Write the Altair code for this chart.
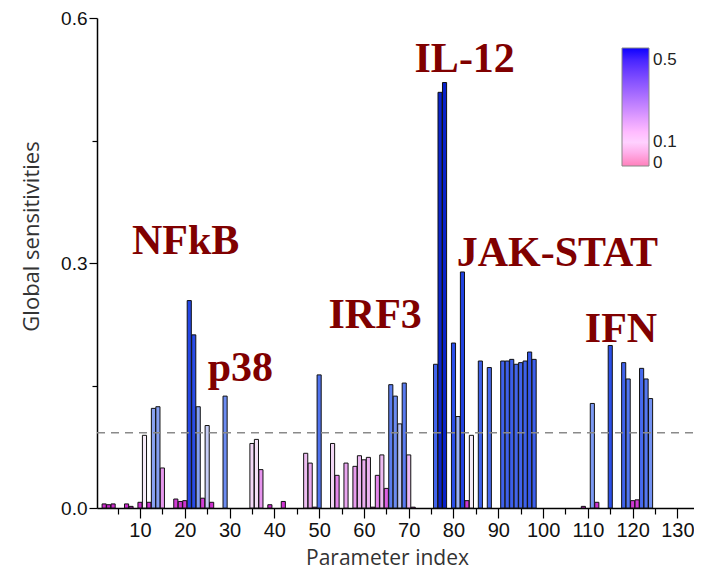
import altair as alt
import pandas as pd

# ---- data ----
param_index = [2, 3, 4, 7, 8, 10, 11, 12, 13, 14, 15, 18, 19, 20, 21, 22, 23, 24, 25, 26, 29,
               35, 36, 37, 39, 42, 47, 48, 49, 50, 53, 54, 56, 58, 59, 60, 61, 62, 63, 64, 65,
               66, 67, 68, 69, 70, 71, 76, 77, 78, 80, 81, 82, 83, 84, 86, 88, 91, 92, 93, 94,
               95, 96, 97, 98, 109, 111, 112, 115, 118, 119, 120, 121, 122, 123, 124]
sensitivity = [0.005, 0.004, 0.005, 0.005, 0.002, 0.007, 0.089, 0.007, 0.122, 0.124, 0.049,
               0.011, 0.008, 0.009, 0.254, 0.212, 0.124, 0.012, 0.101, 0.007, 0.137,
               0.079, 0.084, 0.047, 0.004, 0.008, 0.067, 0.055, 0.001, 0.163, 0.079, 0.040,
               0.055, 0.051, 0.064, 0.059, 0.062, 0.001, 0.040, 0.065, 0.024,
               0.151, 0.137, 0.103, 0.153, 0.065, 0.001, 0.176, 0.509, 0.521, 0.202, 0.112,
               0.289, 0.009, 0.089, 0.180, 0.172, 0.180, 0.180, 0.182, 0.176,
               0.178, 0.180, 0.191, 0.182, 0.002, 0.128, 0.007, 0.199, 0.178, 0.158, 0.009,
               0.010, 0.171, 0.158, 0.134]

group_labels = ["NFkB", "p38", "IRF3", "IL-12", "JAK-STAT", "IFN"]
group_x = [20.2, 32.4, 62.5, 82.5, 103.2, 117.4]
group_y = [0.311, 0.156, 0.221, 0.534, 0.296, 0.203]

threshold = [0.092]
legend_values = [0, 0.1, 0.5]

x_major = [10, 20, 30, 40, 50, 60, 70, 80, 90, 100, 110, 120, 130]
x_minor = [5, 15, 25, 35, 45, 55, 65, 75, 85, 95, 105, 115, 125]
y_major = [0.0, 0.3, 0.6]
y_minor = [0.15, 0.45]

bars_df = pd.DataFrame({"idx": param_index, "value": sensitivity})
ann_df = pd.DataFrame({"label": group_labels, "x": group_x, "y": group_y})
thr_df = pd.DataFrame({"t": threshold})
leg_df = pd.DataFrame({"v": legend_values})

W, H = 597, 490
x_scale = alt.Scale(domain=[0.4, 133.7], nice=False, zero=False)
y_scale = alt.Scale(domain=[0, 0.6], nice=False)

bar_color = alt.Scale(
    domain=[0, 0.03, 0.09, 0.11, 0.14, 0.2, 0.5],
    range=["#c81ec8", "#e070e8", "#f6eef8", "#a0b4f4", "#6688f2", "#2a4ee8", "#0a24cc"],
    interpolate="rgb",
)

label_font = "Liberation Sans"
title_font = "Open Sans"

bars = alt.Chart(bars_df).transform_calculate(
    x0="datum.idx - 0.46", x1="datum.idx + 0.46"
).mark_bar(stroke="#111111", strokeWidth=1).encode(
    x=alt.X("x0:Q", scale=x_scale,
            axis=alt.Axis(values=x_major, tickSize=10, labelPadding=2, grid=False, labelFlush=False,
                          title="Parameter index", titleX=290, titleY=50,
                          titleBaseline="middle", titleAlign="center",
                          titleFont=title_font, titleFontSize=21, titleFontWeight="normal",
                          titleColor="#333333", labelFont=label_font, labelFontSize=20,
                          labelColor="#111111", domainColor="#000000", domainWidth=1.5,
                          tickColor="#000000", tickWidth=1.2, orient="bottom")),
    x2="x1:Q",
    y=alt.Y("value:Q", scale=y_scale,
            axis=alt.Axis(values=y_major, format=".1f", tickSize=8, labelPadding=2, grid=False,
                          labelFlush=False,
                          title="Global sensitivities", titleAngle=270, titleX=-66, titleY=218,
                          titleBaseline="middle", titleAlign="center",
                          titleFont=title_font, titleFontSize=22, titleFontWeight="normal",
                          titleColor="#333333", labelFont=label_font, labelFontSize=19,
                          labelColor="#111111", domainColor="#000000", domainWidth=1.5,
                          tickColor="#000000", tickWidth=1.2, orient="left")),
    y2=alt.datum(0),
    color=alt.Color("value:Q", scale=bar_color, legend=None),
)

rule = alt.Chart(thr_df).mark_rule(color="#8a8a8a", strokeDash=[8, 6], strokeWidth=1.5).encode(
    y=alt.Y("t:Q", scale=y_scale,
            axis=alt.Axis(values=y_minor, tickSize=5, labels=False, domain=False, grid=False,
                          title=None, orient="left", tickColor="#000000", tickWidth=1.2)),
    x=alt.value(0),
    x2=alt.value(W),
)

texts = alt.Chart(ann_df).mark_text(
    font="Liberation Serif", fontWeight="bold", fontSize=42, color="#800000",
    align="center", baseline="alphabetic"
).encode(
    x=alt.X("x:Q", scale=x_scale,
            axis=alt.Axis(values=x_minor, tickSize=6, labels=False, domain=False, grid=False,
                          title=None, orient="bottom", tickColor="#000000", tickWidth=1.2)),
    y=alt.Y("y:Q", scale=y_scale, axis=None),
    text="label:N",
)

legend_layer = alt.Chart(leg_df).mark_point(opacity=0).encode(
    color=alt.Color("v:Q",
                    scale=alt.Scale(domain=[-0.015, 0.1, 0.558],
                                    range=["#ff80bb", "#ffffff", "#0000ff"]),
                    legend=alt.Legend(orient="none", legendX=525, legendY=30,
                                      direction="vertical", title=None,
                                      gradientLength=118, gradientThickness=27,
                                      gradientStrokeColor="#888888", gradientStrokeWidth=1,
                                      values=legend_values,
                                      labelExpr="datum.value == 0 ? '0' : format(datum.value, '.1f')",
                                      labelFont=label_font, labelFontSize=17,
                                      labelColor="#222222", labelOffset=4,
                                      labelOverlap=False, padding=0)),
)

chart = alt.layer(bars, rule, texts, legend_layer).resolve_scale(
    color="independent"
).resolve_axis(
    x="independent", y="independent"
).properties(
    width=W, height=H,
    autosize=alt.AutoSizeParams(type="none"),
    padding={"left": 89, "top": 10, "right": 0, "bottom": 63},
).configure_view(stroke=None)

chart.save("out.html", embed_options={"renderer": "svg", "actions": False})
